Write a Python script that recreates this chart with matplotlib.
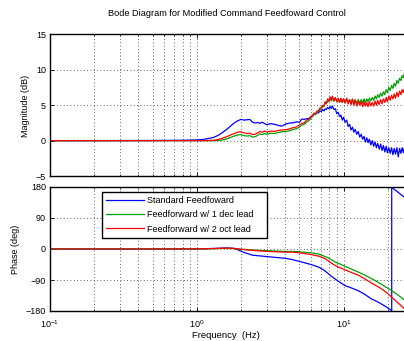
import matplotlib
matplotlib.use("Agg")
import matplotlib.pyplot as plt
from matplotlib.ticker import LogLocator

plt.rcParams['font.family'] = ['Liberation Sans', 'DejaVu Sans']
plt.rcParams['mathtext.fontset'] = 'custom'
plt.rcParams['mathtext.rm'] = 'Liberation Sans'
plt.rcParams['mathtext.it'] = 'Liberation Sans'

title = "Bode Diagram for Modified Command Feedfoward Control"
series_names = ["Standard Feedfoward", "Feedforward w/ 1 dec lead", "Feedforward w/ 2 oct lead"]
series_colors = ["#0000ff", "#00a000", "#ff0000"]

# ---------------- magnitude data (dB) ----------------
freq_mag = [0.1, 0.2, 0.5, 0.8, 1.0, 1.1, 1.2, 1.3, 1.4, 1.5, 1.6, 1.7, 1.8, 1.9, 2.0,
            2.1, 2.2, 2.3, 2.4, 2.5, 2.6, 2.7, 2.8, 2.9, 3.0, 3.2, 3.4, 3.6, 3.8, 4.0,
            4.2, 4.4, 4.6, 4.8, 5.0, 5.2, 5.4, 5.6, 5.8, 6.0,
            6.15, 6.3, 6.45, 6.6, 6.75, 6.9, 7.05, 7.2, 7.35, 7.5, 7.65, 7.8, 7.95, 8.1,
            8.25, 8.4, 8.6, 8.8, 9.0, 9.2, 9.4, 9.6, 9.8, 10.0, 10.25, 10.5, 10.75, 11.0,
            11.25, 11.5, 11.75, 12.0, 12.3, 12.6, 12.9, 13.2, 13.5, 13.8, 14.1, 14.4, 14.7,
            15.0, 15.35, 15.7, 16.05, 16.4, 16.75, 17.1, 17.5, 17.9, 18.3, 18.7, 19.1, 19.5,
            19.9, 20.35, 20.8, 21.25, 21.7, 22.15, 22.6, 23.1, 23.6, 24.1, 24.6, 25.1, 25.6,
            26.1, 26.6]

mag_standard = [0.0, 0.0, 0.02, 0.05, 0.1, 0.15, 0.3, 0.45, 0.75, 1.15, 1.6, 2.05, 2.5, 2.8, 3.0,
                2.9, 2.95, 3.0, 2.6, 2.5, 2.55, 2.45, 2.6, 2.4, 2.25, 2.4, 2.3, 2.15, 2.05, 2.3,
                2.45, 2.5, 2.55, 2.65, 2.6, 3.05, 3.0, 3.1, 3.1, 3.4,
                3.5, 3.8, 3.7, 4.0, 3.9, 4.2, 4.1, 4.4, 4.2, 4.5, 4.4, 4.7, 4.5, 4.8,
                4.55, 4.9, 4.4, 4.5, 3.8, 4.0, 3.4, 3.6, 2.9, 3.3, 2.6, 2.9, 2.0, 2.3,
                1.5, 1.9, 1.2, 1.6, 0.9, 1.3, 0.5, 0.9, 0.2, 0.6, -0.2, 0.4, -0.3,
                0.2, -0.6, 0.0, -0.8, -0.2, -1.0, -0.4, -1.2, -0.5, -1.4, -0.7, -1.6, -0.8,
                -1.7, -1.0, -1.8, -1.0, -2.0, -1.1, -1.9, -1.0, -2.3, -1.1, -1.8, -1.0, -1.7,
                -0.9, -1.5]

mag_1dec = [0.0, 0.0, 0.0, 0.0, 0.0, 0.0, 0.0, 0.0, 0.02, 0.1, 0.25, 0.45, 0.65, 0.8, 0.85,
            0.7, 0.65, 0.7, 0.5, 0.55, 0.75, 0.95, 0.85, 1.0, 0.9, 1.05, 1.0, 1.15, 1.25, 1.3,
            1.35, 1.5, 1.6, 1.7, 1.9, 2.2, 2.3, 2.6, 2.8, 3.2,
            3.4, 3.7, 3.7, 4.0, 4.1, 4.4, 4.5, 4.8, 4.8, 5.3, 5.2, 5.7, 5.5, 6.0,
            5.6, 6.1, 5.6, 6.0, 5.5, 5.9, 5.5, 5.9, 5.4, 5.9, 5.4, 5.9, 5.4, 5.8,
            5.3, 5.8, 5.3, 5.8, 5.3, 5.8, 5.3, 5.8, 5.3, 5.9, 5.4, 5.9, 5.5,
            6.0, 5.6, 6.1, 5.7, 6.3, 5.9, 6.5, 6.1, 6.7, 6.3, 6.9, 6.5, 7.2,
            6.8, 7.5, 7.1, 7.8, 7.4, 8.1, 7.7, 8.5, 8.1, 8.8, 8.5, 9.2, 8.9,
            9.7, 9.4]

mag_2oct = [0.0, 0.0, 0.0, 0.0, 0.0, 0.0, 0.02, 0.05, 0.15, 0.35, 0.55, 0.8, 1.0, 1.2, 1.25,
            1.1, 1.0, 1.05, 0.85, 0.9, 1.1, 1.3, 1.2, 1.35, 1.2, 1.35, 1.3, 1.45, 1.5, 1.55,
            1.6, 1.75, 1.85, 1.95, 2.2, 2.45, 2.5, 2.9, 3.0, 3.4,
            3.5, 3.9, 3.8, 4.2, 4.2, 4.6, 4.6, 5.0, 4.9, 5.5, 5.3, 5.9, 5.6, 6.2,
            5.7, 6.3, 5.6, 6.1, 5.5, 6.0, 5.4, 6.0, 5.4, 5.9, 5.3, 6.0, 5.2, 5.8,
            5.1, 5.9, 5.0, 5.7, 4.9, 5.6, 5.0, 5.5, 4.8, 5.5, 4.9, 5.4, 4.8,
            5.5, 4.9, 5.4, 4.9, 5.6, 5.0, 5.7, 5.1, 5.8, 5.2, 5.9, 5.4, 6.1,
            5.5, 6.3, 5.7, 6.4, 5.9, 6.6, 6.0, 6.8, 6.2, 7.0, 6.5, 7.2, 6.8,
            7.5, 7.1]

# ---------------- phase data (deg) ----------------
freq_phase = [0.1, 0.5, 1.0, 1.3, 1.6, 1.8, 2.1, 2.4, 3.0, 4.0, 4.4, 5.0, 6.0, 6.8, 7.4,
              7.8, 8.2, 8.7, 9.4, 10.2, 11.3, 12.6, 14.0, 15.5, 16.8, 18.2, 19.7, 21.3,
              21.3, 23.0, 24.8, 26.6]
phase_standard = [0, 0, 0.5, 1.5, 3, 2, -10, -18, -22, -27, -30, -36, -45, -53, -62,
                  -70, -78, -86, -96, -106, -113, -121, -132, -145, -152, -160, -169, -179,
                  179, 168, 157, 147]
phase_1dec = [0, 0, 0.2, 1, 2, 1, -1, -3, -5, -7, -7, -8, -11, -15, -21,
              -25, -30, -37, -43, -50, -58, -67, -76, -86, -94, -103, -112, -121,
              -121, -131, -141, -152]
phase_2oct = [0, 0, 0.3, 1.5, 2.5, 1.5, -2, -4, -7, -9, -9, -11, -16, -21, -27,
              -33, -40, -47, -54, -60, -68, -76, -87, -99, -107, -116, -127, -140,
              -140, -153, -165, -178]

mag_ticks = [-5, 0, 5, 10, 15]
phase_ticks = [-180, -90, 0, 90, 180]

W, H = 404, 341
fig = plt.figure(figsize=(W / 100, H / 100), dpi=100)

left = 50 / W
right_px = 408
ax1 = fig.add_axes([left, (H - 176) / H, (right_px - 50) / W, 141.5 / H])
ax2 = fig.add_axes([left, (H - 311) / H, (right_px - 50) / W, 124 / H])

fs = 6.5
grid_kw = dict(color='0.2', linestyle=(0, (1, 3)), linewidth=0.6)

mags = [mag_standard, mag_1dec, mag_2oct]
phases = [phase_standard, phase_1dec, phase_2oct]
for vals, c, name in zip(mags, series_colors, series_names):
    ax1.semilogx(freq_mag, vals, color=c, linewidth=0.9, label=name)
for vals, c, name in zip(phases, series_colors, series_names):
    ax2.semilogx(freq_phase, vals, color=c, linewidth=0.9, label=name)

for ax in (ax1, ax2):
    ax.set_xscale('log')
    ax.set_xlim(0.1, 27.5)
    ax.xaxis.set_major_locator(LogLocator(base=10, numticks=10))
    ax.xaxis.set_minor_locator(LogLocator(base=10, subs=range(2, 10), numticks=20))
    ax.grid(True, which='major', **grid_kw)
    ax.grid(True, which='minor', axis='x', **grid_kw)
    ax.tick_params(which='both', direction='in', labelsize=fs, pad=3, top=True, right=False)
    ax.tick_params(which='major', length=3, width=0.6)
    ax.tick_params(which='minor', length=1.5, width=0.5)
    for s in ax.spines.values():
        s.set_linewidth(1.0)
    ax.spines['right'].set_visible(False)

ax1.set_ylim(-5, 15)
ax1.set_yticks(mag_ticks)
ax1.tick_params(labelbottom=False)

ax2.set_ylim(-180, 180)
ax2.set_yticks(phase_ticks)
ax2.tick_params(axis='x', pad=5)

leg = ax2.legend(loc='upper left', bbox_to_anchor=(0.144, 0.662, 0.461, 0.3), mode='expand',
                 fontsize=6.5, frameon=True, fancybox=False, framealpha=1, edgecolor='black',
                 handlelength=4.2, handletextpad=0.4, labelspacing=0.6, borderpad=0.45,
                 borderaxespad=0)
leg.get_frame().set_linewidth(1.0)

fig.text(227 / W, 1 - 14 / H, title, ha='center', va='center', fontsize=6.6)
fig.text(26 / W, 1 - 105.5 / H, "Magnitude (dB)", rotation=90, ha='center', va='center', fontsize=fs)
fig.text(15 / W, 1 - 249 / H, "Phase (deg)", rotation=90, ha='center', va='center', fontsize=fs)
fig.text(226 / W, 1 - 336 / H, "Frequency  (Hz)", ha='center', va='center', fontsize=6.8)

fig.savefig("out.png", dpi=100)
